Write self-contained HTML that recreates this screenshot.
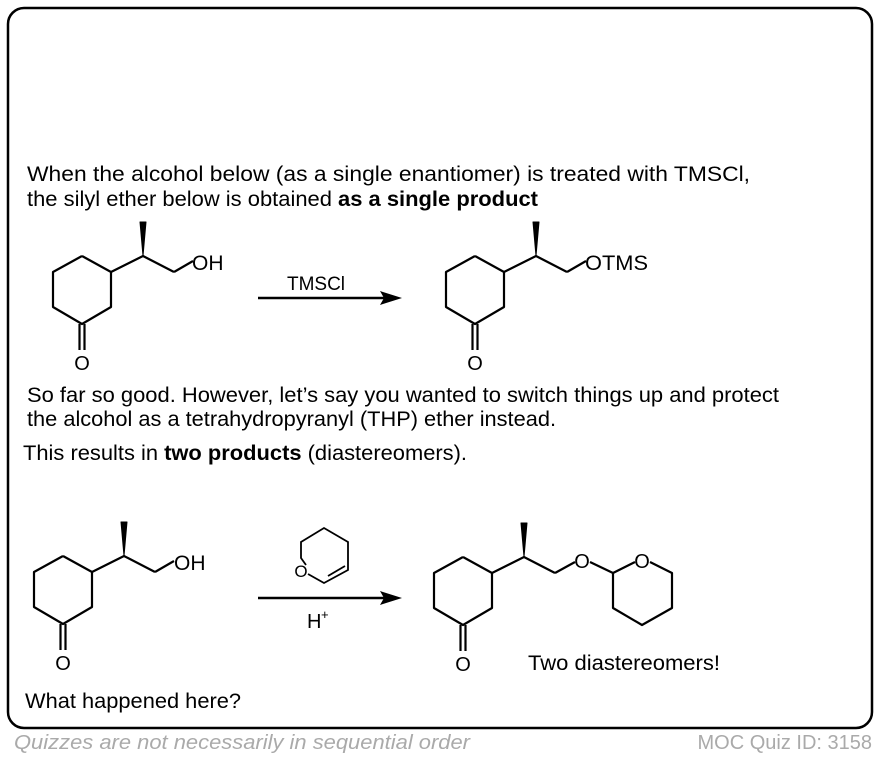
<!DOCTYPE html>
<html><head><meta charset="utf-8"><style>
html,body{margin:0;padding:0;background:#fff;}
svg{display:block;}
text{font-family:"Liberation Sans",Arial,sans-serif;fill:#000;}
</style></head><body>
<svg width="880" height="758" viewBox="0 0 880 758" xmlns="http://www.w3.org/2000/svg">
<defs>
<g id="ket" stroke="#000" stroke-width="2.2" fill="none" stroke-linejoin="round">
  <polyline points="0,0 -29,16 -29,51 0,68 29,51 29,16 0,0"/>
  <line x1="-2.5" y1="68" x2="-2.5" y2="94"/>
  <line x1="2.5" y1="68" x2="2.5" y2="94"/>
  <polyline points="29,16 61,0 92,16"/>
  <polygon points="61,0 58,-34 64,-34" fill="#000" stroke-width="1"/>
</g>
</defs>
<rect x="8" y="8" width="864" height="720" rx="16" ry="16" fill="none" stroke="#000" stroke-width="2.5"/>

<text x="27" y="181" font-size="21" textLength="723" lengthAdjust="spacingAndGlyphs">When the alcohol below (as a single enantiomer) is treated with TMSCl,</text>
<text x="27" y="206" font-size="21" textLength="511" lengthAdjust="spacingAndGlyphs">the silyl ether below is obtained <tspan font-weight="bold">as a single product</tspan></text>

<!-- mol 1 -->
<use href="#ket" x="82" y="256"/>
<line x1="174" y1="272" x2="193" y2="261" stroke="#000" stroke-width="2.2"/>
<text x="192" y="270" font-size="21">OH</text>
<text x="82" y="370" font-size="20" text-anchor="middle">O</text>

<line x1="258" y1="298" x2="385" y2="298" stroke="#000" stroke-width="2.5"/>
<polygon points="402,298 380,291 384,298 380,305" fill="#000"/>
<text x="316" y="290" font-size="19" text-anchor="middle">TMSCl</text>

<!-- mol 2 -->
<use href="#ket" x="475" y="256"/>
<line x1="567" y1="272" x2="586" y2="261" stroke="#000" stroke-width="2.2"/>
<text x="585" y="270" font-size="21" textLength="63" lengthAdjust="spacingAndGlyphs">OTMS</text>
<text x="475" y="370" font-size="20" text-anchor="middle">O</text>

<text x="27" y="402" font-size="21" textLength="752" lengthAdjust="spacingAndGlyphs">So far so good. However, let’s say you wanted to switch things up and protect</text>
<text x="27" y="426" font-size="21" textLength="529" lengthAdjust="spacingAndGlyphs">the alcohol as a tetrahydropyranyl (THP) ether instead.</text>
<text x="23" y="460" font-size="21" textLength="444" lengthAdjust="spacingAndGlyphs">This results in <tspan font-weight="bold">two products</tspan> (diastereomers).</text>

<!-- mol 3 -->
<use href="#ket" x="63" y="556"/>
<line x1="155" y1="572" x2="174" y2="561" stroke="#000" stroke-width="2.2"/>
<text x="174" y="570" font-size="21">OH</text>
<text x="63" y="670" font-size="20" text-anchor="middle">O</text>

<!-- DHP -->
<g stroke="#000" stroke-width="1.8" fill="none">
  <polyline points="306,565 301,558 301,542 324,528 348,542 348,570 324,583 308,574"/>
  <line x1="328" y1="576" x2="345" y2="566"/>
</g>
<text x="301" y="577" font-size="17" text-anchor="middle">O</text>
<line x1="258" y1="598" x2="385" y2="598" stroke="#000" stroke-width="2.5"/>
<polygon points="402,598 380,591 384,598 380,605" fill="#000"/>
<text x="307" y="628" font-size="20">H</text><text x="321" y="619" font-size="13">+</text>

<!-- mol 4 -->
<use href="#ket" x="463" y="557"/>
<g stroke="#000" stroke-width="2.2" fill="none" stroke-linejoin="round">
  <line x1="555" y1="573" x2="575" y2="562"/>
  <line x1="590" y1="562" x2="613" y2="573"/>
  <line x1="613" y1="573" x2="635" y2="562"/>
  <polyline points="650,562 672,573 672,608 642,625 613,608 613,573"/>
</g>
<text x="582" y="568" font-size="20" text-anchor="middle">O</text>
<text x="642" y="568" font-size="20" text-anchor="middle">O</text>
<text x="463" y="671" font-size="20" text-anchor="middle">O</text>
<text x="528" y="670" font-size="21" textLength="192" lengthAdjust="spacingAndGlyphs">Two diastereomers!</text>

<text x="25" y="708" font-size="21" textLength="216" lengthAdjust="spacingAndGlyphs">What happened here?</text>

<text x="14" y="749" font-size="20" font-style="italic" style="fill:#aaa" textLength="456" lengthAdjust="spacingAndGlyphs">Quizzes are not necessarily in sequential order</text>
<text x="872" y="749" font-size="20" text-anchor="end" style="fill:#aaa">MOC Quiz ID: 3158</text>
</svg>
</body></html>
